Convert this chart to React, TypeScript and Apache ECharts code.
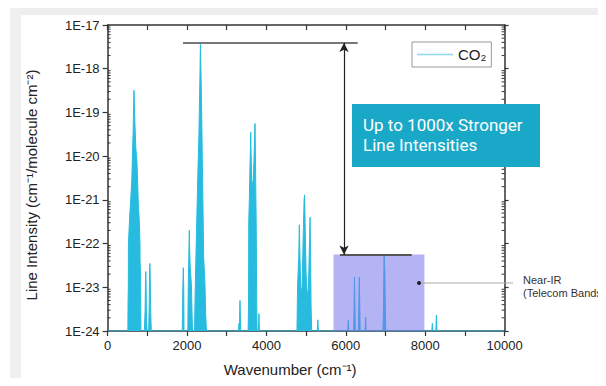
import React, { useEffect, useRef } from "react";
import * as echarts from "echarts";

// ---- data (wavenumber cm^-1, line intensity cm^-1/(molecule cm^-2)) ----
const band667: [number, number][] = [
  [510, 1e-24], [515, 4e-24], [522, 1e-23], [525, 1e-22], [555, 4e-22], [582, 1e-21],
  [610, 3e-21], [625, 1e-20], [645, 4e-20], [658, 2e-19], [665, 3.2e-19], [672, 2e-19],
  [690, 5e-20], [712, 1.5e-20], [738, 8e-21], [755, 3e-21], [770, 1e-21], [800, 3e-22],
  [816, 1e-22], [818, 4e-23], [830, 2e-23], [840, 1e-24],
];
const band1000: [number, number][] = [
  [925, 1e-24], [945, 3e-24], [955, 1.5e-23], [961, 2.3e-23], [968, 1.5e-23], [980, 2e-24],
  [995, 1e-24], [1035, 1e-24], [1048, 4e-24], [1056, 2e-23], [1064, 3.5e-23], [1072, 2e-23],
  [1085, 3e-24], [1100, 1e-24],
];
const band2000: [number, number][] = [
  [1880, 1e-24], [1895, 1e-23], [1907, 2.8e-23], [1917, 1e-23], [1925, 1e-24], [2020, 1e-24],
  [2030, 8e-24], [2040, 3e-23], [2058, 2e-22], [2066, 8e-23], [2080, 3e-23], [2110, 1.2e-23],
  [2125, 3e-24], [2140, 1e-24],
];
const band2349: [number, number][] = [
  [2190, 1e-24], [2200, 4e-24], [2210, 1.2e-23], [2240, 2e-22], [2270, 3e-21], [2300, 3e-20],
  [2325, 6e-19], [2338, 3.6e-18], [2350, 3.6e-18], [2362, 3e-19], [2380, 2e-20], [2400, 1e-21],
  [2420, 5e-23], [2440, 2e-23], [2455, 1e-23], [2470, 2.5e-24], [2490, 1e-24],
];
const band3300: [number, number][] = [
  [3300, 1e-24], [3310, 1.5e-24], [3318, 1e-24], [3325, 2e-24], [3335, 5e-24], [3345, 2e-24],
  [3355, 1e-24],
];
const band3650: [number, number][] = [
  [3540, 1e-24], [3550, 4e-24], [3555, 3e-22], [3570, 1e-21], [3585, 5e-21], [3598, 1.5e-20],
  [3605, 3.5e-20], [3612, 1.5e-20], [3630, 3e-21], [3650, 2e-21], [3670, 3e-21], [3690, 1e-20],
  [3705, 3e-20], [3713, 5.6e-20], [3720, 2e-20], [3730, 3e-21], [3745, 2e-22], [3755, 5e-24],
  [3765, 1e-24], [3800, 1e-24], [3812, 2.5e-24], [3825, 1e-24],
];
const band4950: [number, number][] = [
  [4770, 1e-24], [4780, 5e-24], [4788, 1.2e-23], [4800, 1.2e-23], [4815, 5e-23], [4830, 2.7e-22],
  [4845, 5e-23], [4870, 8e-24], [4900, 1e-23], [4930, 2e-22], [4950, 1e-21], [4962, 1.3e-21],
  [4975, 3e-22], [5000, 2e-23], [5030, 6e-24], [5060, 1e-23], [5085, 1e-22], [5100, 4e-22],
  [5112, 6e-23], [5125, 4e-24], [5140, 1e-24],
];
const band5300: [number, number][] = [[5280, 1e-24], [5295, 1.8e-24], [5310, 1e-24]];
const bandNearIR: [number, number][] = [
  [6050, 1e-24], [6063, 1.8e-24], [6075, 1e-24], [6200, 1e-24], [6210, 5e-24], [6218, 1.7e-23],
  [6228, 5e-24], [6240, 1e-24], [6318, 1e-24], [6330, 5e-24], [6340, 1.7e-23], [6350, 5e-24],
  [6362, 1e-24], [6488, 1e-24], [6500, 2.1e-24], [6512, 1e-24], [6935, 1e-24], [6948, 3e-24],
  [6958, 2e-23], [6965, 5.6e-23], [6978, 5.6e-23], [6986, 2e-23], [6996, 3e-24], [7008, 1e-24],
];
const band8200: [number, number][] = [
  [8165, 1e-24], [8180, 1.5e-24], [8192, 1e-24], [8268, 1e-24], [8282, 2.3e-24], [8296, 1e-24],
];

const xTicks = { min: 0, max: 10000, interval: 2000 };
// y axis: decades (log10 of intensity), labelled 1E-24 ... 1E-17
const yDecades = { min: -24, max: -17, interval: 1 };
const minorMultipliers = [2, 3, 4, 5, 6, 7, 8, 9];
const seriesName = "CO₂";
const yTitle = "Line Intensity (cm⁻¹/molecule cm⁻²)";
const xTitle = "Wavenumber (cm⁻¹)";
const gainTop = 3.9e-18;
const nearIRTop = 5.6e-23;
const nearIRRange = [5690, 7980];
const gainLine = [1900, 6300];
const nearIRLine = [5855, 7660];
const arrowX = 5955;

const CYAN = "#27bcdf";
const FONT = "Liberation Sans, Arial, sans-serif";
const lg = (v: number) => Math.log10(v);

export default function App() {
  const ref = useRef<HTMLDivElement>(null);
  useEffect(() => {
    if (!ref.current) return;
    const chart = echarts.init(ref.current, null, { renderer: "svg" });
    const spectrum = [
      [xTicks.min, 1e-24],
      ...band667, ...band1000, ...band2000, ...band2349, ...band3300, ...band3650,
      ...band4950, ...band5300, ...bandNearIR, ...band8200,
      [xTicks.max, 1e-24],
    ].map(([x, y]) => [x, lg(y)]);
    const minorTickData: number[][] = [];
    for (let e = yDecades.min; e < yDecades.max; e++) {
      minorMultipliers.forEach((m) => minorTickData.push([xTicks.min, e + lg(m)]));
    }
    const axisLine = { onZero: false, lineStyle: { color: "#333", width: 1.5 } };
    const tickStyle = { color: "#333", width: 1.2 };
    const yBase = {
      type: "value" as const,
      ...yDecades,
      splitLine: { show: false },
    };
    chart.setOption({
      animation: false,
      backgroundColor: "#fff",
      textStyle: { fontFamily: FONT },
      grid: { left: 107.6, right: 101.4, top: 25, bottom: 55, outerBoundsMode: "none" },
      legend: {
        left: 412,
        top: 42,
        padding: [5, 5, 5, 5],
        borderColor: "#999",
        borderWidth: 1,
        itemWidth: 36,
        itemHeight: 1.5,
        itemGap: 5,
        textStyle: { fontSize: 15, color: "#222", fontFamily: FONT },
        data: [{ name: seriesName, icon: "rect", itemStyle: { color: "#8fd9ee" } }],
      },
      xAxis: [
        {
          type: "value",
          position: "bottom",
          ...xTicks,
          axisLine,
          axisTick: { length: 5, lineStyle: tickStyle },
          minorTick: { show: true, splitNumber: 2, length: 5, lineStyle: tickStyle },
          splitLine: { show: false },
          minorSplitLine: { show: false },
          axisLabel: {
            fontSize: 13,
            color: "#222",
            margin: 8,
            fontFamily: FONT,
            showMinLabel: true,
            showMaxLabel: true,
            formatter: (v: number) => String(v),
          },
          name: xTitle,
          nameLocation: "middle",
          nameGap: 31,
          nameTextStyle: { fontSize: 15, color: "#222", fontFamily: FONT, padding: [0, 32, 0, 0] },
        },
        {
          type: "value",
          position: "top",
          ...xTicks,
          axisLine,
          axisTick: { inside: true, length: 5, lineStyle: tickStyle },
          minorTick: { show: true, splitNumber: 2, length: 5, lineStyle: tickStyle },
          splitLine: { show: false },
          axisLabel: { show: false },
        },
      ],
      yAxis: [
        {
          ...yBase,
          position: "left",
          axisLine,
          axisTick: { length: 5, lineStyle: tickStyle },
          axisLabel: {
            fontSize: 13,
            color: "#222",
            margin: 8,
            fontFamily: FONT,
            showMinLabel: true,
            showMaxLabel: true,
            formatter: (v: number) => "1E" + Math.round(v),
          },
        },
        {
          ...yBase,
          position: "right",
          axisLine,
          axisTick: { length: 4, lineStyle: tickStyle },
          axisLabel: { show: false },
        },
      ],
      series: [
        {
          name: seriesName,
          type: "line",
          data: spectrum,
          showSymbol: false,
          symbol: "none",
          z: 2,
          lineStyle: { color: CYAN, width: 1 },
          itemStyle: { color: CYAN },
          areaStyle: { color: CYAN, opacity: 1, origin: "start" },
        },
        {
          name: "minor ticks",
          type: "custom",
          silent: true,
          z: 3,
          data: minorTickData,
          encode: { x: 0, y: 1 },
          renderItem: (_params: any, api: any) => {
            const v = api.value(1);
            const pl = api.coord([xTicks.min, v]);
            const pr = api.coord([xTicks.max, v]);
            const st = { stroke: "#333", lineWidth: 1 };
            return {
              type: "group",
              children: [
                { type: "line", shape: { x1: pl[0], y1: pl[1], x2: pl[0] + 3, y2: pl[1] }, style: st },
                { type: "line", shape: { x1: pr[0], y1: pr[1], x2: pr[0] - 3, y2: pr[1] }, style: st },
              ],
            };
          },
        },
        {
          name: "annotations",
          type: "line",
          data: [],
          z: 5,
          markArea: {
            silent: true,
            z: 5,
            itemStyle: { color: "rgba(118,118,236,0.55)" },
            data: [[{ coord: [nearIRRange[0], lg(nearIRTop)] }, { coord: [nearIRRange[1], yDecades.min] }]],
          },
          markLine: {
            silent: true,
            z: 6,
            label: { show: false },
            symbol: ["none", "none"],
            data: [
              [
                { coord: [gainLine[0], lg(gainTop)], lineStyle: { color: "#777", width: 2, type: "solid" } },
                { coord: [gainLine[1], lg(gainTop)] },
              ],
              [
                { coord: [nearIRLine[0], lg(nearIRTop)], lineStyle: { color: "#555", width: 2, type: "solid" } },
                { coord: [nearIRLine[1], lg(nearIRTop)] },
              ],
              [
                {
                  coord: [arrowX, lg(gainTop)],
                  symbol: "arrow",
                  symbolSize: [7, 9],
                  lineStyle: { color: "#222", width: 1.2, type: "solid" },
                },
                { coord: [arrowX, lg(nearIRTop)], symbol: "arrow", symbolSize: [7, 9] },
              ],
            ],
          },
        },
      ],
      graphic: [
        { type: "rect", shape: { x: 0, y: 0, width: 606, height: 5 }, style: { fill: "#f8f8f8" }, silent: true },
        { type: "rect", shape: { x: 20, y: 5, width: 586, height: 10 }, style: { fill: "#eeeeee" }, silent: true },
        { type: "rect", shape: { x: 10, y: 5, width: 11, height: 381 }, style: { fill: "#f0f0f0" }, silent: true },
        {
          type: "text",
          x: 31,
          y: 185,
          rotation: Math.PI / 2,
          style: {
            text: yTitle,
            font: "15px Liberation Sans",
            fill: "#222",
            align: "center",
            verticalAlign: "middle",
          },
        },
        { type: "rect", shape: { x: 352, y: 104, width: 188, height: 63 }, style: { fill: "#1aa8c8" }, z: 10 },
        {
          type: "text",
          x: 363,
          y: 115,
          z: 11,
          style: {
            text: "Up to 1000x Stronger\nLine Intensities",
            font: "17px Roboto",
            fill: "#fff",
            lineHeight: 20,
            verticalAlign: "top",
          },
        },
        { type: "line", shape: { x1: 419, y1: 283, x2: 513, y2: 283 }, style: { stroke: "#aaa", lineWidth: 1 }, z: 10 },
        { type: "circle", shape: { cx: 419, cy: 283, r: 2 }, style: { fill: "#222" }, z: 11 },
        {
          type: "text",
          x: 523,
          y: 273,
          z: 11,
          style: {
            text: "Near-IR\n(Telecom Bands)",
            font: "11px Liberation Sans",
            fill: "#333",
            lineHeight: 13,
            verticalAlign: "top",
          },
        },
      ],
    });
    return () => chart.dispose();
  }, []);
  return <div ref={ref} style={{ width: 606, height: 386, margin: -8 }} />;
}
